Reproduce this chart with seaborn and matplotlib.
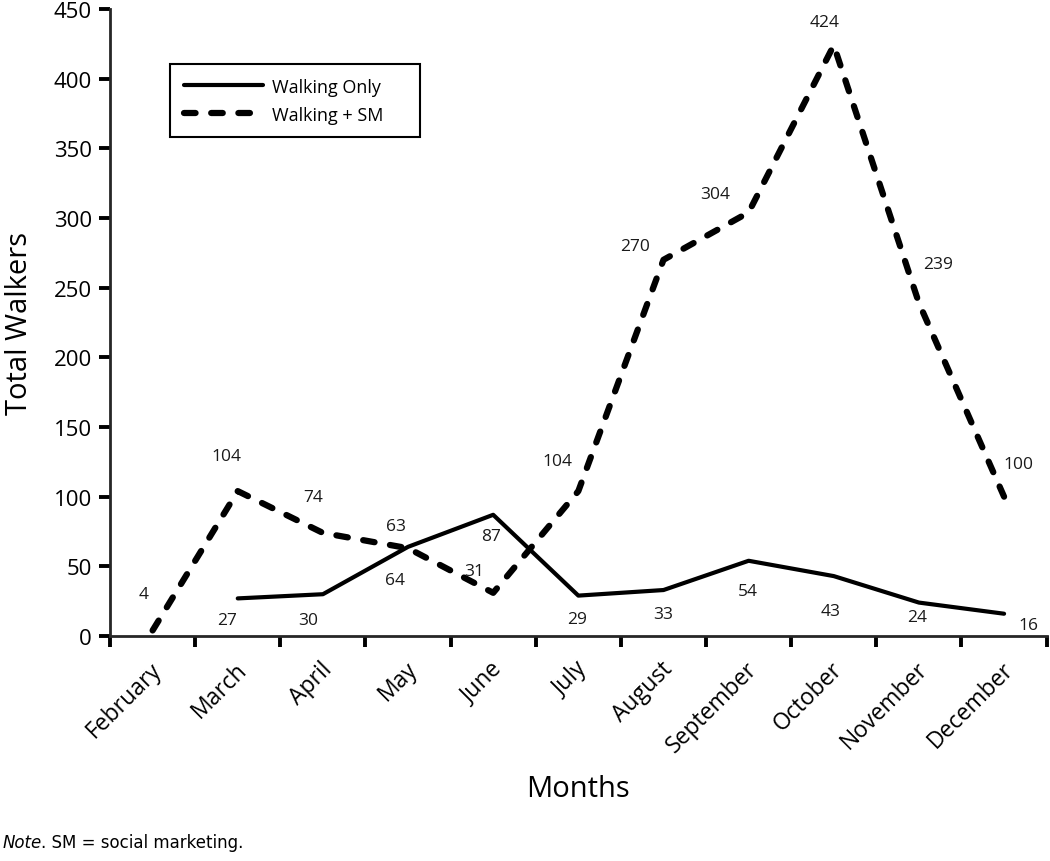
import matplotlib
matplotlib.use("Agg")
import matplotlib.pyplot as plt
import matplotlib.transforms as mtrans
import seaborn as sns
import pandas as pd

# datos
months = ["February", "March", "April", "May", "June", "July",
          "August", "September", "October", "November", "December"]
walk_sm = [4, 104, 74, 63, 31, 104, 270, 304, 424, 239, 100]
months_only = months[1:]
walk_only = [27, 30, 64, 87, 29, 33, 54, 43, 24, 16]

# desplazamiento de las etiquetas (pixeles)
off_sm = [(-9, 36), (-11, 35), (-10, 36), (-12, 22), (-19, 22), (-21, 30),
          (-28, 14), (-33, 18), (-9, 23), (19, 39), (14, 33)]
off_only = [(-11, -22), (-15, -26), (-13, -33), (-2, -21), (-1, -23),
            (0, -24), (-1, -30), (-3, -35), (-2, -14), (24, -11)]

sns.set_style("ticks")
plt.rcParams["font.family"] = ["Open Sans", "DejaVu Sans"]
plt.rcParams["axes.linewidth"] = 2
for k in ["text.color", "axes.labelcolor", "xtick.color", "ytick.color"]:
    plt.rcParams[k] = "black"

fig = plt.figure(figsize=(10.5, 8.62), dpi=100)
ax = fig.add_axes([0.1048, 0.261, 0.892, 0.7274])

df_sm = pd.DataFrame({"Month": months, "Walkers": walk_sm})
df_only = pd.DataFrame({"Month": months_only, "Walkers": walk_only})

sns.lineplot(data=df_sm, x="Month", y="Walkers", sort=False, color="black",
             lw=4.5, ax=ax)
sns.lineplot(data=df_only, x="Month", y="Walkers", sort=False, color="black",
             lw=3, ax=ax)
l_sm, l_only = ax.get_lines()[:2]
l_sm.set_dashes([1.85, 2.5])
l_sm.set_dash_capstyle("round")

for m, v, (dx, dy) in zip(months, walk_sm, off_sm):
    ax.annotate(str(v), (m, v), xytext=(dx, dy), textcoords="offset pixels",
                ha="center", va="center", fontsize=12.5, color="#1a1a1a")
for m, v, (dx, dy) in zip(months_only, walk_only, off_only):
    ax.annotate(str(v), (m, v), xytext=(dx, dy), textcoords="offset pixels",
                ha="center", va="center", fontsize=12.5, color="#1a1a1a")

ax.set_xlim(-0.5, len(months) - 0.5)
ax.set_ylim(0, 450)
ax.set_yticks(range(0, 451, 50))
ax.set_xticks(range(len(months)))
ax.set_xticks([i - 0.5 for i in range(len(months) + 1)], minor=True)
ax.tick_params(axis="x", which="major", length=0, labelsize=16.5, pad=15)
ax.tick_params(axis="x", which="minor", length=8, width=2.8, direction="out")
ax.tick_params(axis="y", length=8, width=2.8, labelsize=16, pad=5)
ax.set_xticklabels(months, rotation=45, ha="right", rotation_mode="anchor")
shift = mtrans.ScaledTranslation(-3 / 100, 0, fig.dpi_scale_trans)
for lbl in ax.get_xticklabels():
    lbl.set_transform(lbl.get_transform() + shift)

ax.set_xlabel("Months", fontsize=21, labelpad=12)
ax.set_ylabel("Total Walkers", fontsize=21, labelpad=14)
sns.despine(ax=ax)

leg = ax.legend([l_only, l_sm], ["Walking Only", "Walking + SM"],
                loc="upper left", bbox_to_anchor=(0.064, 0, 0.267, 0.912),
                mode="expand", borderaxespad=0, fontsize=13, handlelength=4.4,
                handletextpad=0.5, borderpad=0.75, labelspacing=0.55,
                fancybox=False, edgecolor="black", framealpha=1)
leg.get_frame().set_linewidth(1.5)

# nota al pie
note_font = ["DejaVu Sans"]
t1 = fig.text(0.002, 0.012, "Note", fontsize=12, style="italic",
              family=note_font, va="bottom")
fig.canvas.draw()
bb = t1.get_window_extent()
x2 = bb.x1 / fig.bbox.width
fig.text(x2, 0.012, ". SM = social marketing.", fontsize=12,
         family=note_font, va="bottom")

fig.savefig("out.png", dpi=100)
